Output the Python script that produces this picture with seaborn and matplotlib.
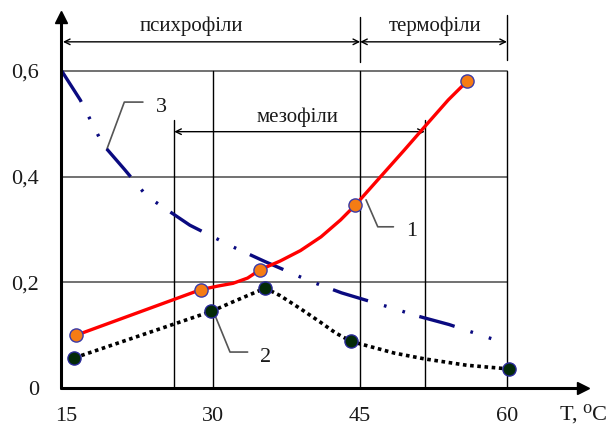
import numpy as np
import matplotlib
matplotlib.use("Agg")
import matplotlib.pyplot as plt
import seaborn as sns

# =========================
# DATA
# =========================
# curve 1 (red, smooth line) - points along the curve
t1 = [16.0, 28.7, 30.5, 32.0, 33.5, 34.8, 36.8, 38.9, 41.0, 43.0, 44.5, 47.0, 49.5, 52.0, 54.0, 55.9]
v1 = [0.100, 0.186, 0.193, 0.198, 0.208, 0.224, 0.240, 0.260, 0.286, 0.318, 0.346,
      0.398, 0.450, 0.503, 0.545, 0.580]
# curve 1 measured points (markers)
t1_pts = [16.0, 28.7, 34.8, 44.5, 55.9]
v1_pts = [0.100, 0.186, 0.224, 0.346, 0.580]

# curve 2 (black dotted)
t2 = [15.8, 29.8, 32.0, 35.3, 36.8, 38.9, 40.9, 42.5, 44.1, 45.7, 48.5, 51.6, 55.9, 60.2]
v2 = [0.057, 0.145, 0.163, 0.189, 0.175, 0.150, 0.125, 0.104, 0.088, 0.080, 0.066, 0.055, 0.043, 0.036]
t2_pts = [15.8, 29.8, 35.3, 44.1, 60.2]
v2_pts = [0.057, 0.145, 0.189, 0.088, 0.036]

# curve 3 (blue dash-dot-dot)
t3 = [14.5, 16.4, 18.7, 20.9, 23.2, 27.6, 32.0, 35.3, 39.9, 43.1, 47.6, 50.9, 54.1, 58.8]
v3 = [0.600, 0.545, 0.461, 0.414, 0.363, 0.308, 0.267, 0.239, 0.202, 0.180, 0.155, 0.136, 0.120, 0.091]

x_ticks = [15, 30, 45, 60]
x_labels = ["15", "30", "45", "60"]
y_ticks = [0, 0.2, 0.4, 0.6]
y_labels = ["0", "0,2", "0,4", "0,6"]

# temperature zones
psychro = (14.43, 45)
thermo = (45, 60)
meso = (26.0, 51.6)
zone_names = ["психрофіли", "термофіли", "мезофіли"]
curve_names = ["1", "2", "3"]

# =========================
# FIGURE
# =========================
sns.set_theme(style="white")
plt.rcParams["font.family"] = ["Liberation Serif", "DejaVu Serif"]

fig = plt.figure(figsize=(6.1, 4.25), dpi=100)
ax = fig.add_axes([0.1, 0.0871, 0.8557, 0.8729])
ax.set_xlim(14.43, 67.77)
ax.set_ylim(0, 0.702)

# grid lines (only inside the 15..60 / 0..0.6 frame)
for yv in [0.2, 0.4, 0.6]:
    ax.plot([14.43, 60], [yv, yv], color="#666666", lw=1.3, zorder=1)
for xv in [30, 45, 60]:
    ax.plot([xv, xv], [0, 0.6], color="black", lw=1.0, zorder=1)
for xv in meso:
    ax.plot([xv, xv], [0, 0.508], color="black", lw=1.0, zorder=1)

# curves
sns.lineplot(x=t3, y=v3, ax=ax, sort=False, estimator=None, color="#0a0a80",
             lw=2.4, linestyle=(0, (11, 5, 0.8, 5, 0.8, 4.5)), zorder=3)
sns.lineplot(x=t2, y=v2, ax=ax, sort=False, estimator=None, color="black",
             lw=2.6, linestyle=(0, (1, 1)), zorder=3)
sns.lineplot(x=t1, y=v1, ax=ax, sort=False, estimator=None, color="#ff0000",
             lw=2.4, zorder=4)

sns.scatterplot(x=t1_pts, y=v1_pts, ax=ax, s=90, color="#f57c14",
                edgecolor="#3a3aa8", linewidth=1.0, zorder=5)
sns.scatterplot(x=t2_pts, y=v2_pts, ax=ax, s=90, color="#032a08",
                edgecolor="#2a2a9a", linewidth=1.0, zorder=5)

# axes with arrows
for s in ax.spines.values():
    s.set_visible(False)
ax.plot([14.43, 67.77], [0, 0], color="black", lw=2.2, clip_on=False, zorder=6)
ax.plot([14.43, 14.43], [0, 0.702], color="black", lw=2.2, clip_on=False, zorder=6)
ax.plot(67.77, 0, marker=">", color="black", ms=9, clip_on=False, zorder=6)
ax.plot(14.43, 0.702, marker="^", color="black", ms=9, clip_on=False, zorder=6)

ax.set_xticks(x_ticks)
ax.set_xticklabels(x_labels)
ax.set_yticks(y_ticks)
ax.set_yticklabels(y_labels)
ax.tick_params(axis="both", length=0, labelsize=16, colors="#1a1a1a")
ax.tick_params(axis="x", pad=13.5)
ax.tick_params(axis="y", pad=16)
ax.set_xlabel("")
ax.set_ylabel("")
fig.text(0.995, 0.025, "T, \u2070C", fontsize=16, ha="right", va="center", color="#1a1a1a")

# zone arrows
arrow_kw = dict(arrowstyle="<->", color="black", lw=1.0, mutation_scale=10,
                shrinkA=0, shrinkB=0)
ax.annotate("", xy=(psychro[0] + 0.2, 0.655), xytext=(psychro[1], 0.655),
            arrowprops=arrow_kw, annotation_clip=False)
ax.annotate("", xy=(thermo[0], 0.655), xytext=(thermo[1], 0.655),
            arrowprops=arrow_kw, annotation_clip=False)
ax.annotate("", xy=(meso[0], 0.485), xytext=(meso[1], 0.485),
            arrowprops=arrow_kw)
ax.plot([45, 45], [0.617, 0.702], color="black", lw=1.0, clip_on=False)
ax.plot([60, 60], [0.62, 0.706], color="black", lw=1.0, clip_on=False)

ax.text(27.8, 0.685, zone_names[0], fontsize=15, ha="center", va="center", color="#1a1a1a")
ax.text(52.7, 0.685, zone_names[1], fontsize=15, ha="center", va="center", color="#1a1a1a")
ax.text(38.6, 0.513, zone_names[2], fontsize=15, ha="center", va="center", color="#1a1a1a")

# curve labels with leader lines
lead = dict(color="#555555", lw=1.2, zorder=2)
ax.plot([45.6, 46.8, 48.4], [0.356, 0.305, 0.305], **lead)
ax.text(50.3, 0.297, curve_names[0], fontsize=16, ha="center", va="center", color="#1a1a1a")
ax.plot([30.2, 31.7, 33.5], [0.136, 0.068, 0.068], **lead)
ax.text(35.3, 0.057, curve_names[1], fontsize=16, ha="center", va="center", color="#1a1a1a")
ax.plot([19.1, 20.9, 22.8], [0.451, 0.541, 0.541], **lead)
ax.text(24.7, 0.531, curve_names[2], fontsize=16, ha="center", va="center", color="#1a1a1a")

fig.savefig("out.png", dpi=100)
